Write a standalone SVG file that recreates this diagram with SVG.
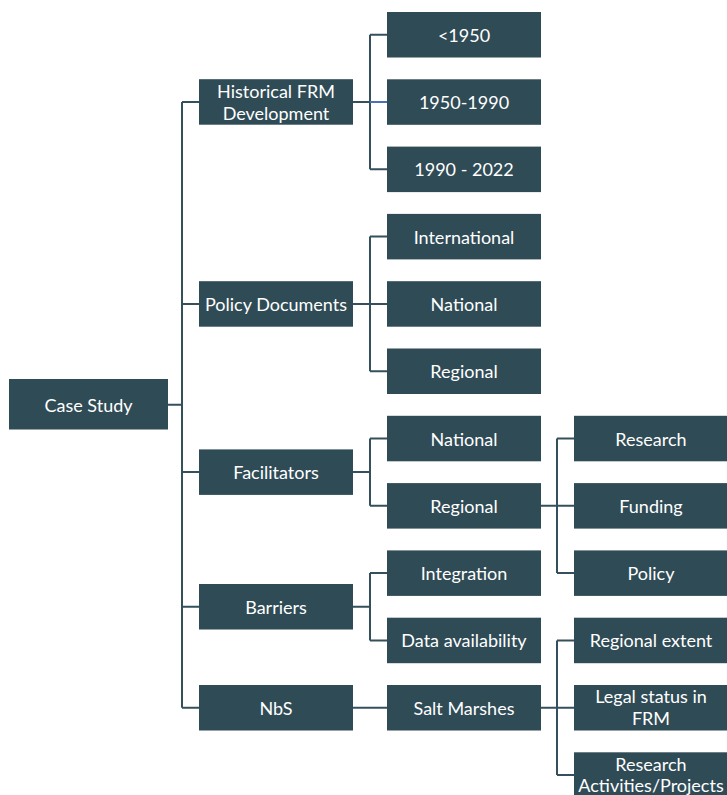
<svg xmlns="http://www.w3.org/2000/svg" width="727" height="795" viewBox="0 0 727 795">
<style>
.box{fill:#2F4B56;}
.t{font-family:Lato,"Open Sans","Liberation Sans",sans-serif;font-size:18px;fill:#FFFFFF;text-anchor:middle;dominant-baseline:central;}
.c{fill:none;stroke:#34505C;stroke-width:2;}
.cb{fill:none;stroke:#4A70B8;stroke-width:2;}
</style>
<rect width="727" height="795" fill="#FFFFFF"/>
<g id="connectors">
<path class="c" d="M168,404.8 H182 M182,102 V707.7 M182,102 H199 M182,303.9 H199 M182,472.1 H199 M182,606.8 H199 M182,707.7 H199"/>
<path class="c" d="M353,102 H370 M370,34.7 V169.3 M370,34.7 H387 M370,169.3 H387"/>
<path class="cb" d="M370,102 H387"/>
<path class="c" d="M353,303.9 H370 M370,236.6 V371.2 M370,236.6 H387 M370,303.9 H387 M370,371.2 H387"/>
<path class="c" d="M353,472.1 H370 M370,438.5 V505.8 M370,438.5 H387 M370,505.8 H387"/>
<path class="c" d="M353,606.8 H370 M370,573.1 V640.4 M370,573.1 H387 M370,640.4 H387"/>
<path class="c" d="M353,707.7 H387"/>
<path class="c" d="M541,505.8 H557 M557,438.5 V573.1 M557,438.5 H574 M557,505.8 H574 M557,573.1 H574"/>
<path class="c" d="M541,707.7 H557 M557,640.4 V775 M557,640.4 H574 M557,707.7 H574 M557,775 H574"/>
</g>
<g id="case-study"><rect class="box" x="9" y="379" width="159" height="50.5"/><text class="t" x="88.5" y="404.5">Case Study</text></g>
<g id="historical"><rect class="box" x="199" y="79.2" width="154" height="45.5"/><text class="t" x="276" y="91.2">Historical FRM</text><text class="t" x="276" y="112.6">Development</text></g>
<g id="policy-documents"><rect class="box" x="199" y="281.2" width="154" height="45.5"/><text class="t" x="276" y="303.9">Policy Documents</text></g>
<g id="facilitators"><rect class="box" x="199" y="449.4" width="154" height="45.5"/><text class="t" x="276" y="472.1">Facilitators</text></g>
<g id="barriers"><rect class="box" x="199" y="584" width="154" height="45.5"/><text class="t" x="276" y="606.8">Barriers</text></g>
<g id="nbs"><rect class="box" x="199" y="685" width="154" height="45.5"/><text class="t" x="276" y="707.7">NbS</text></g>
<g id="lt1950"><rect class="box" x="387" y="12" width="154" height="45.5"/><text class="t" x="464" y="34.7">&lt;1950</text></g>
<g id="y1950-1990"><rect class="box" x="387" y="79.3" width="154" height="45.5"/><text class="t" x="464" y="102">1950-1990</text></g>
<g id="y1990-2022"><rect class="box" x="387" y="146.6" width="154" height="45.5"/><text class="t" x="464" y="169.3">1990 - 2022</text></g>
<g id="international"><rect class="box" x="387" y="213.9" width="154" height="45.5"/><text class="t" x="464" y="236.6">International</text></g>
<g id="policy-national"><rect class="box" x="387" y="281.2" width="154" height="45.5"/><text class="t" x="464" y="303.9">National</text></g>
<g id="policy-regional"><rect class="box" x="387" y="348.5" width="154" height="45.5"/><text class="t" x="464" y="371.2">Regional</text></g>
<g id="fac-national"><rect class="box" x="387" y="415.8" width="154" height="45.5"/><text class="t" x="464" y="438.5">National</text></g>
<g id="fac-regional"><rect class="box" x="387" y="483.1" width="154" height="45.5"/><text class="t" x="464" y="505.8">Regional</text></g>
<g id="integration"><rect class="box" x="387" y="550.4" width="154" height="45.5"/><text class="t" x="464" y="573.1">Integration</text></g>
<g id="data-availability"><rect class="box" x="387" y="617.7" width="154" height="45.5"/><text class="t" x="464" y="640.4">Data availability</text></g>
<g id="salt-marshes"><rect class="box" x="387" y="685" width="154" height="45.5"/><text class="t" x="464" y="707.7">Salt Marshes</text></g>
<g id="research"><rect class="box" x="574" y="415.8" width="154" height="45.5"/><text class="t" x="651" y="438.5">Research</text></g>
<g id="funding"><rect class="box" x="574" y="483.1" width="154" height="45.5"/><text class="t" x="651" y="505.8">Funding</text></g>
<g id="policy"><rect class="box" x="574" y="550.4" width="154" height="45.5"/><text class="t" x="651" y="573.1">Policy</text></g>
<g id="regional-extent"><rect class="box" x="574" y="617.7" width="154" height="45.5"/><text class="t" x="651" y="640.4">Regional extent</text></g>
<g id="legal-status"><rect class="box" x="574" y="685" width="154" height="45.5"/><text class="t" x="651" y="696.3">Legal status in</text><text class="t" x="651" y="717.7">FRM</text></g>
<g id="research-activities"><rect class="box" x="574" y="752.3" width="154" height="45.5"/><text class="t" x="651" y="763.5">Research</text><text class="t" x="651" y="784.9">Activities/Projects</text></g>
</svg>
